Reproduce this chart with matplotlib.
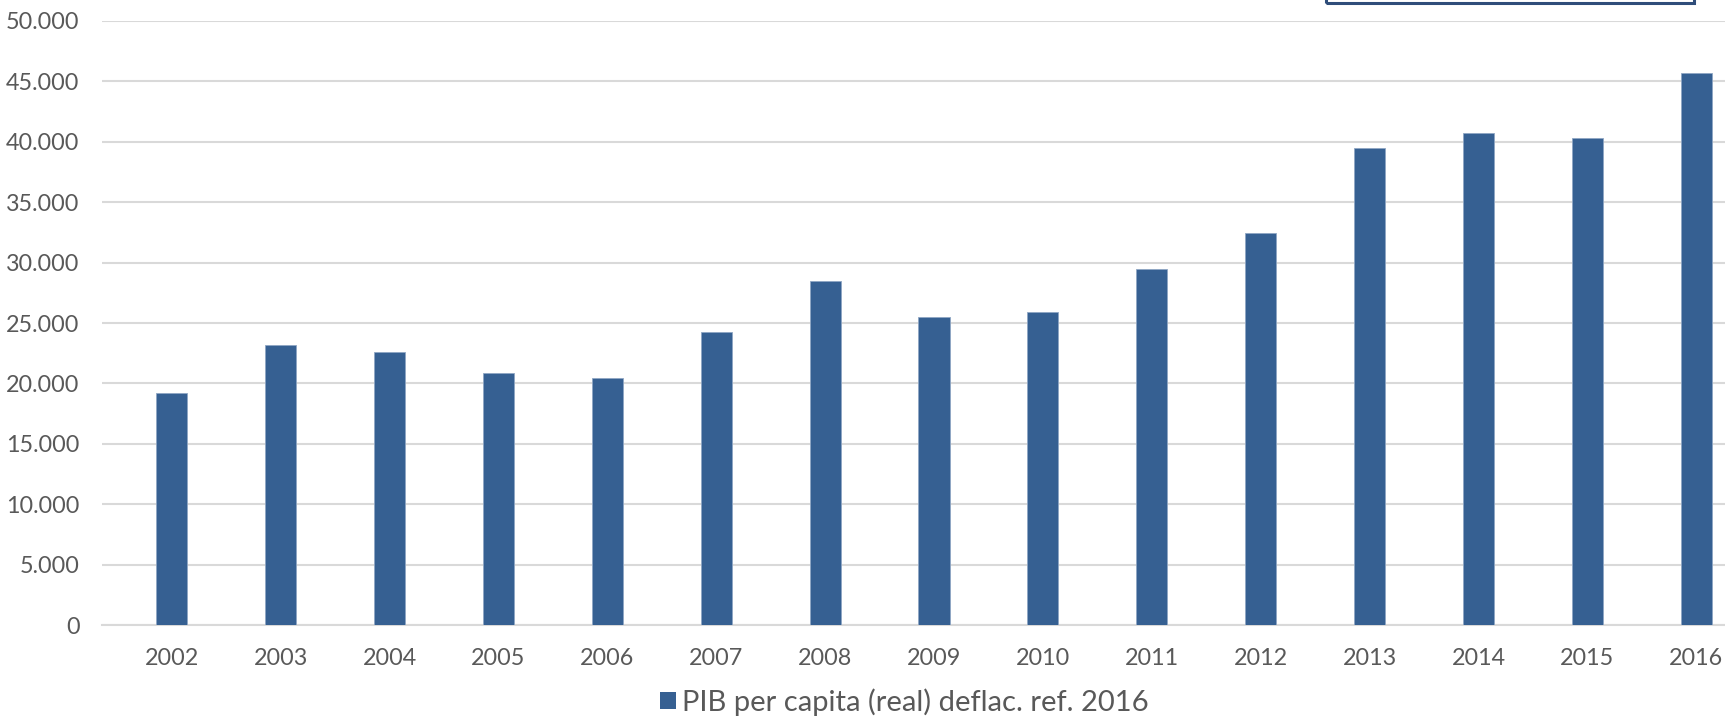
import matplotlib.pyplot as plt
from matplotlib.patches import Patch, Rectangle
from matplotlib.ticker import FuncFormatter

YEARS = ['2002', '2003', '2004', '2005', '2006', '2007', '2008', '2009',
         '2010', '2011', '2012', '2013', '2014', '2015', '2016']
PIB_REAL = [19170, 23140, 22610, 20860, 20420, 24280, 28500, 25500,
            25880, 29450, 32430, 39450, 40730, 40330, 45680]
LEGEND_LABEL = 'PIB per capita (real) deflac. ref. 2016'

BAR_COLOR = '#366092'
GRID_COLOR = '#d9d9d9'
TEXT_COLOR = '#595959'

plt.rcParams['font.family'] = ['Lato', 'DejaVu Sans']

W, H = 1725, 716
fig = plt.figure(figsize=(W / 100, H / 100), dpi=100)
ax = fig.add_axes([101.7 / W, (H - 625.3) / H, 1 - 101.7 / W, (625.3 - 20.7) / H])

x = range(len(YEARS))
ax.bar(x, PIB_REAL, width=0.285, color=BAR_COLOR, edgecolor='#8fa6c4', linewidth=0.6, zorder=3)

ax.set_xlim(-0.643, 14.264)
ax.set_ylim(0, 50000)
ax.set_yticks(range(0, 50001, 5000))
ax.yaxis.set_major_formatter(FuncFormatter(lambda v, p: f'{int(v):,}'.replace(',', '.')))
ax.set_xticks(list(x))
ax.set_xticklabels(YEARS)

ax.grid(axis='y', color=GRID_COLOR, linewidth=1.5, zorder=0)
for side in ['top', 'right', 'left']:
    ax.spines[side].set_visible(False)
ax.spines['bottom'].set_color(GRID_COLOR)
ax.spines['bottom'].set_linewidth(1.5)
ax.tick_params(axis='both', length=0, labelsize=16.8, labelcolor=TEXT_COLOR)
ax.tick_params(axis='y', pad=16)
ax.tick_params(axis='x', pad=16.5)

legend = [Patch(facecolor=BAR_COLOR, edgecolor='none', label=LEGEND_LABEL)]
fig.legend(handles=legend, loc='center', bbox_to_anchor=(904.5 / W, 14 / H),
           frameon=False, fontsize=21, labelcolor=TEXT_COLOR,
           handlelength=0.55, handleheight=0.55, handletextpad=0.22)

# edge of a box cut off at the top of the picture
fig.patches.append(Rectangle((1326 / W, (H - 2.7) / H), (1694 - 1326) / W, 0.1,
                             transform=fig.transFigure, fill=False,
                             edgecolor='#2f4d7a', linewidth=2.2))

fig.savefig('out.png', dpi=100)
